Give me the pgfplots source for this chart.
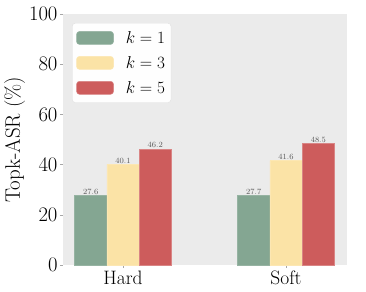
\documentclass[border=0pt]{standalone}
\usepackage{pgfplots}
\pgfplotsset{compat=1.18}
\definecolor{bg}{HTML}{EBEBEB}
\definecolor{cg}{HTML}{84A692}
\definecolor{cy}{HTML}{FBE3A6}
\definecolor{cr}{HTML}{CD5C5C}
\begin{document}
\begin{tikzpicture}
\useasboundingbox (-63bp,-27bp) rectangle (303bp,265bp);
\begin{axis}[
  at={(0,0)}, anchor=south west,
  scale only axis, width=284bp, height=251bp,
  xmin=-0.368, xmax=1.374, ymin=0, ymax=100,
  axis background/.style={fill=bg},
  axis line style={draw=none},
  ybar, bar width=0.198,
  xtick={0,1}, xticklabels={Hard,Soft},
  ytick={0,20,40,60,80,100},
  tick align=outside, tick pos=left,
  major tick length=3bp,
  tick style={gray!70, line width=0.6pt},
  ticklabel style={font=\fontsize{19.5}{19.5}\selectfont},
  yticklabel style={xshift=1bp},
  xticklabel style={yshift=1bp},
  ylabel={Topk-ASR (\%)},
  ylabel style={font=\fontsize{21}{21}\selectfont, yshift=-3bp},
  nodes near coords,
  nodes near coords style={font=\fontsize{8}{8}\selectfont, color=black!65, inner sep=1bp,
    /pgf/number format/.cd, fixed, fixed zerofill, precision=1},
  legend style={at={(rel axis cs:0.032,0.964)}, anchor=north west,
    fill=white!97!bg, draw=black!12, rounded corners=3bp,
    font=\fontsize{19}{19}\selectfont, inner xsep=4bp, inner ysep=6bp,
    row sep=7.5bp},
  legend image code/.code={\draw[#1, draw opacity=1] (0bp,-6.5bp) rectangle (37bp,6.5bp);},
  legend cell align=left,
]
\addplot[fill=cg, draw=cg!85!white, line width=0.5pt, bar shift=-0.198] coordinates {(0,27.6) (1,27.7)};
\addplot[fill=cy, draw=cy!85!white, line width=0.5pt, bar shift=0] coordinates {(0,40.1) (1,41.6)};
\addplot[fill=cr, draw=cr!75!white, line width=0.5pt, bar shift=0.198] coordinates {(0,46.2) (1,48.5)};
\legend{\hspace{10bp}$k=1$,\hspace{10bp}$k=3$,\hspace{10bp}$k=5$}
\end{axis}
\end{tikzpicture}
\end{document}
